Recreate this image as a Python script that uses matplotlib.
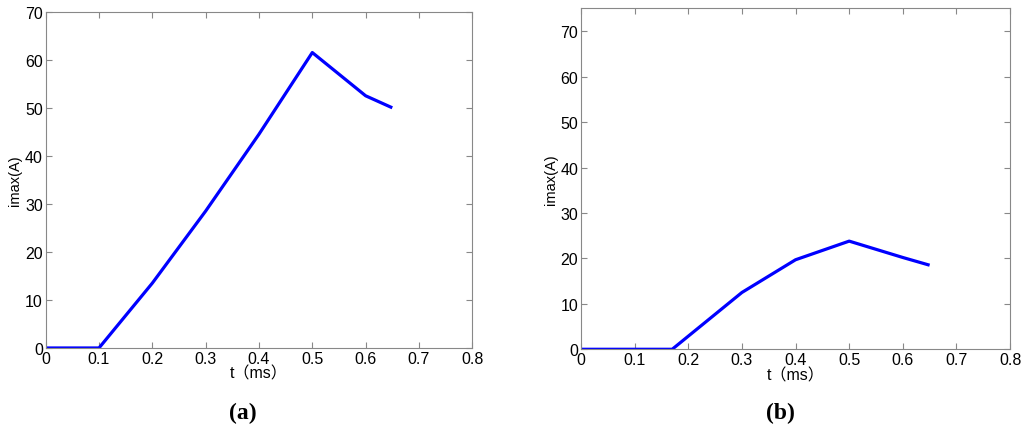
import matplotlib.pyplot as plt

plt.rcParams['font.family'] = ['Liberation Sans', 'Noto Sans CJK SC', 'DejaVu Sans']

# 数据 (a)
t_a = [0, 0.1, 0.2, 0.3, 0.4, 0.5, 0.6, 0.65]
imax_a = [0, 0, 13.5, 28.5, 44.5, 61.5, 52.5, 50.0]

# 数据 (b)
t_b = [0, 0.17, 0.3, 0.4, 0.5, 0.6, 0.65]
imax_b = [0, 0, 12.5, 19.7, 23.8, 20.2, 18.5]

xticks = [0, 0.1, 0.2, 0.3, 0.4, 0.5, 0.6, 0.7, 0.8]
xticklabels = ['0', '0.1', '0.2', '0.3', '0.4', '0.5', '0.6', '0.7', '0.8']
yticks = [0, 10, 20, 30, 40, 50, 60, 70]

fig = plt.figure(figsize=(10.24, 4.31), dpi=100)
ax1 = fig.add_axes([0.0446, 0.1903, 0.4166, 0.7802])
ax2 = fig.add_axes([0.5674, 0.1873, 0.4190, 0.7907])


def style(ax, t, y, ylim, tag, tag_x):
    ax.plot(t, y, color='#0000ff', linewidth=2.3, solid_capstyle='butt')
    ax.set_xlim(0, 0.8)
    ax.set_ylim(*ylim)
    ax.set_xticks(xticks)
    ax.set_xticklabels(xticklabels)
    ax.set_yticks(yticks)
    ax.tick_params(direction='in', top=True, right=True, length=4,
                   color='#888888', labelsize=11.5, pad=2)
    for s in ax.spines.values():
        s.set_color('#888888')
        s.set_linewidth(0.8)
    ax.set_xlabel('t（ms）', fontsize=11.5, labelpad=0)
    ax.set_ylabel('imax(A)', fontsize=10.5, labelpad=2)
    fig.text(tag_x, 1 - 413 / 431, '(' + tag + ')', ha='center', va='center',
             fontsize=17, fontweight='bold', family='Liberation Serif')


style(ax1, t_a, imax_a, (0, 70), 'a', 243 / 1024)
style(ax2, t_b, imax_b, (0, 75), 'b', 780 / 1024)

fig.savefig('out.png', dpi=100)
